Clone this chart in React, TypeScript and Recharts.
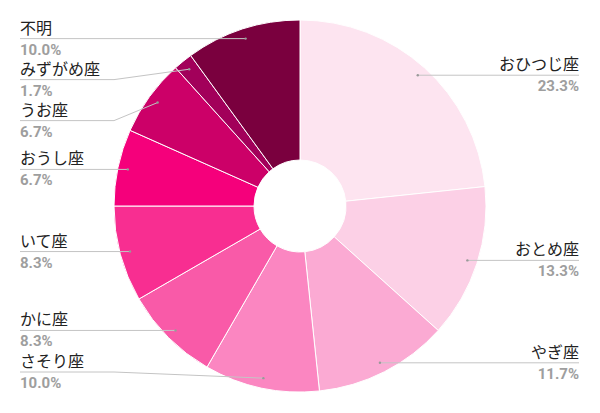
import { Cell, Pie, PieChart } from "recharts";

const signs = [
  "おひつじ座",
  "おとめ座",
  "やぎ座",
  "さそり座",
  "かに座",
  "いて座",
  "おうし座",
  "うお座",
  "みずがめ座",
  "不明",
];
const counts = [14, 8, 7, 6, 5, 5, 4, 4, 1, 6];
const colors = [
  "#fde4f0",
  "#fcd0e6",
  "#fbaad3",
  "#fb86c1",
  "#f95aa8",
  "#f82e91",
  "#f5007b",
  "#cc0068",
  "#a2005a",
  "#7a003e",
];

const data = signs.map((name, i) => ({ name, value: counts[i] }));

const W = 600;
const H = 413;
const CX = 300;
const CY = 206;
const R = 186;
const DOT_R = 176;
const GAP = 41;
const MIN_Y = 30;
const MAX_Y = 372;

// label line heights, pushed apart so the label blocks do not overlap
const total = counts.reduce((a, b) => a + b, 0);
const lineY: number[] = [];
const onRight: boolean[] = [];
{
  let acc = 0;
  counts.forEach((c, i) => {
    const mid = ((acc + c / 2) / total) * 2 * Math.PI;
    acc += c;
    lineY[i] = CY - DOT_R * Math.cos(mid);
    onRight[i] = mid < Math.PI;
  });
  [true, false].forEach((side) => {
    const idx = counts
      .map((_, i) => i)
      .filter((i) => onRight[i] === side)
      .sort((a, b) => lineY[a] - lineY[b]);
    for (let k = 0; k < idx.length; k++) {
      const prev = k > 0 ? lineY[idx[k - 1]] + GAP : MIN_Y;
      lineY[idx[k]] = Math.max(lineY[idx[k]], prev);
    }
    for (let k = idx.length - 1; k >= 0; k--) {
      const next = k < idx.length - 1 ? lineY[idx[k + 1]] - GAP : MAX_Y;
      lineY[idx[k]] = Math.min(lineY[idx[k]], next);
    }
  });
}

const RAD = Math.PI / 180;

const renderLabel = (props: any) => {
  const { cx, cy, midAngle, outerRadius, index, percent, name } = props;
  const dx = cx + (outerRadius - 10) * Math.cos(-midAngle * RAD);
  const dy = cy + (outerRadius - 10) * Math.sin(-midAngle * RAD);
  const right = onRight[index];
  const ly = lineY[index];
  const tx = right ? W - 21 : 20;
  const elbow = right ? cx + outerRadius : cx - outerRadius;
  const anchor = right ? "end" : "start";
  return (
    <g key={`lbl-${index}`}>
      <polyline
        points={`${tx},${ly} ${elbow},${ly} ${dx},${dy}`}
        fill="none"
        stroke="#c4c4c4"
        strokeWidth={1}
      />
      <circle cx={dx} cy={dy} r={1.2} fill="#999" />
      <text
        x={tx}
        y={ly - 5}
        textAnchor={anchor}
        fontSize={16}
        fill="#222"
        fontFamily="Roboto, 'Noto Sans CJK JP', sans-serif"
      >
        {name}
      </text>
      <text
        x={tx}
        y={ly + 16}
        textAnchor={anchor}
        fontSize={15}
        fontWeight="bold"
        fill="#9e9e9e"
        fontFamily="Roboto, sans-serif"
      >
        {(percent * 100).toFixed(1)}%
      </text>
    </g>
  );
};

const App = () => {
  return (
    <div style={{ position: "absolute", left: 0, top: 0, background: "#fff" }}>
      <PieChart width={W} height={H} margin={{ top: 0, right: 0, bottom: 0, left: 0 }}>
        <Pie
          data={data}
          dataKey="value"
          nameKey="name"
          cx={CX}
          cy={CY}
          innerRadius={46}
          outerRadius={R}
          startAngle={90}
          endAngle={-270}
          stroke="#fff"
          strokeWidth={1}
          label={renderLabel}
          labelLine={false}
          isAnimationActive={false}
        >
          {data.map((d, i) => (
            <Cell key={`cell-${i}`} fill={colors[i]} />
          ))}
        </Pie>
      </PieChart>
    </div>
  );
};

export default App;
